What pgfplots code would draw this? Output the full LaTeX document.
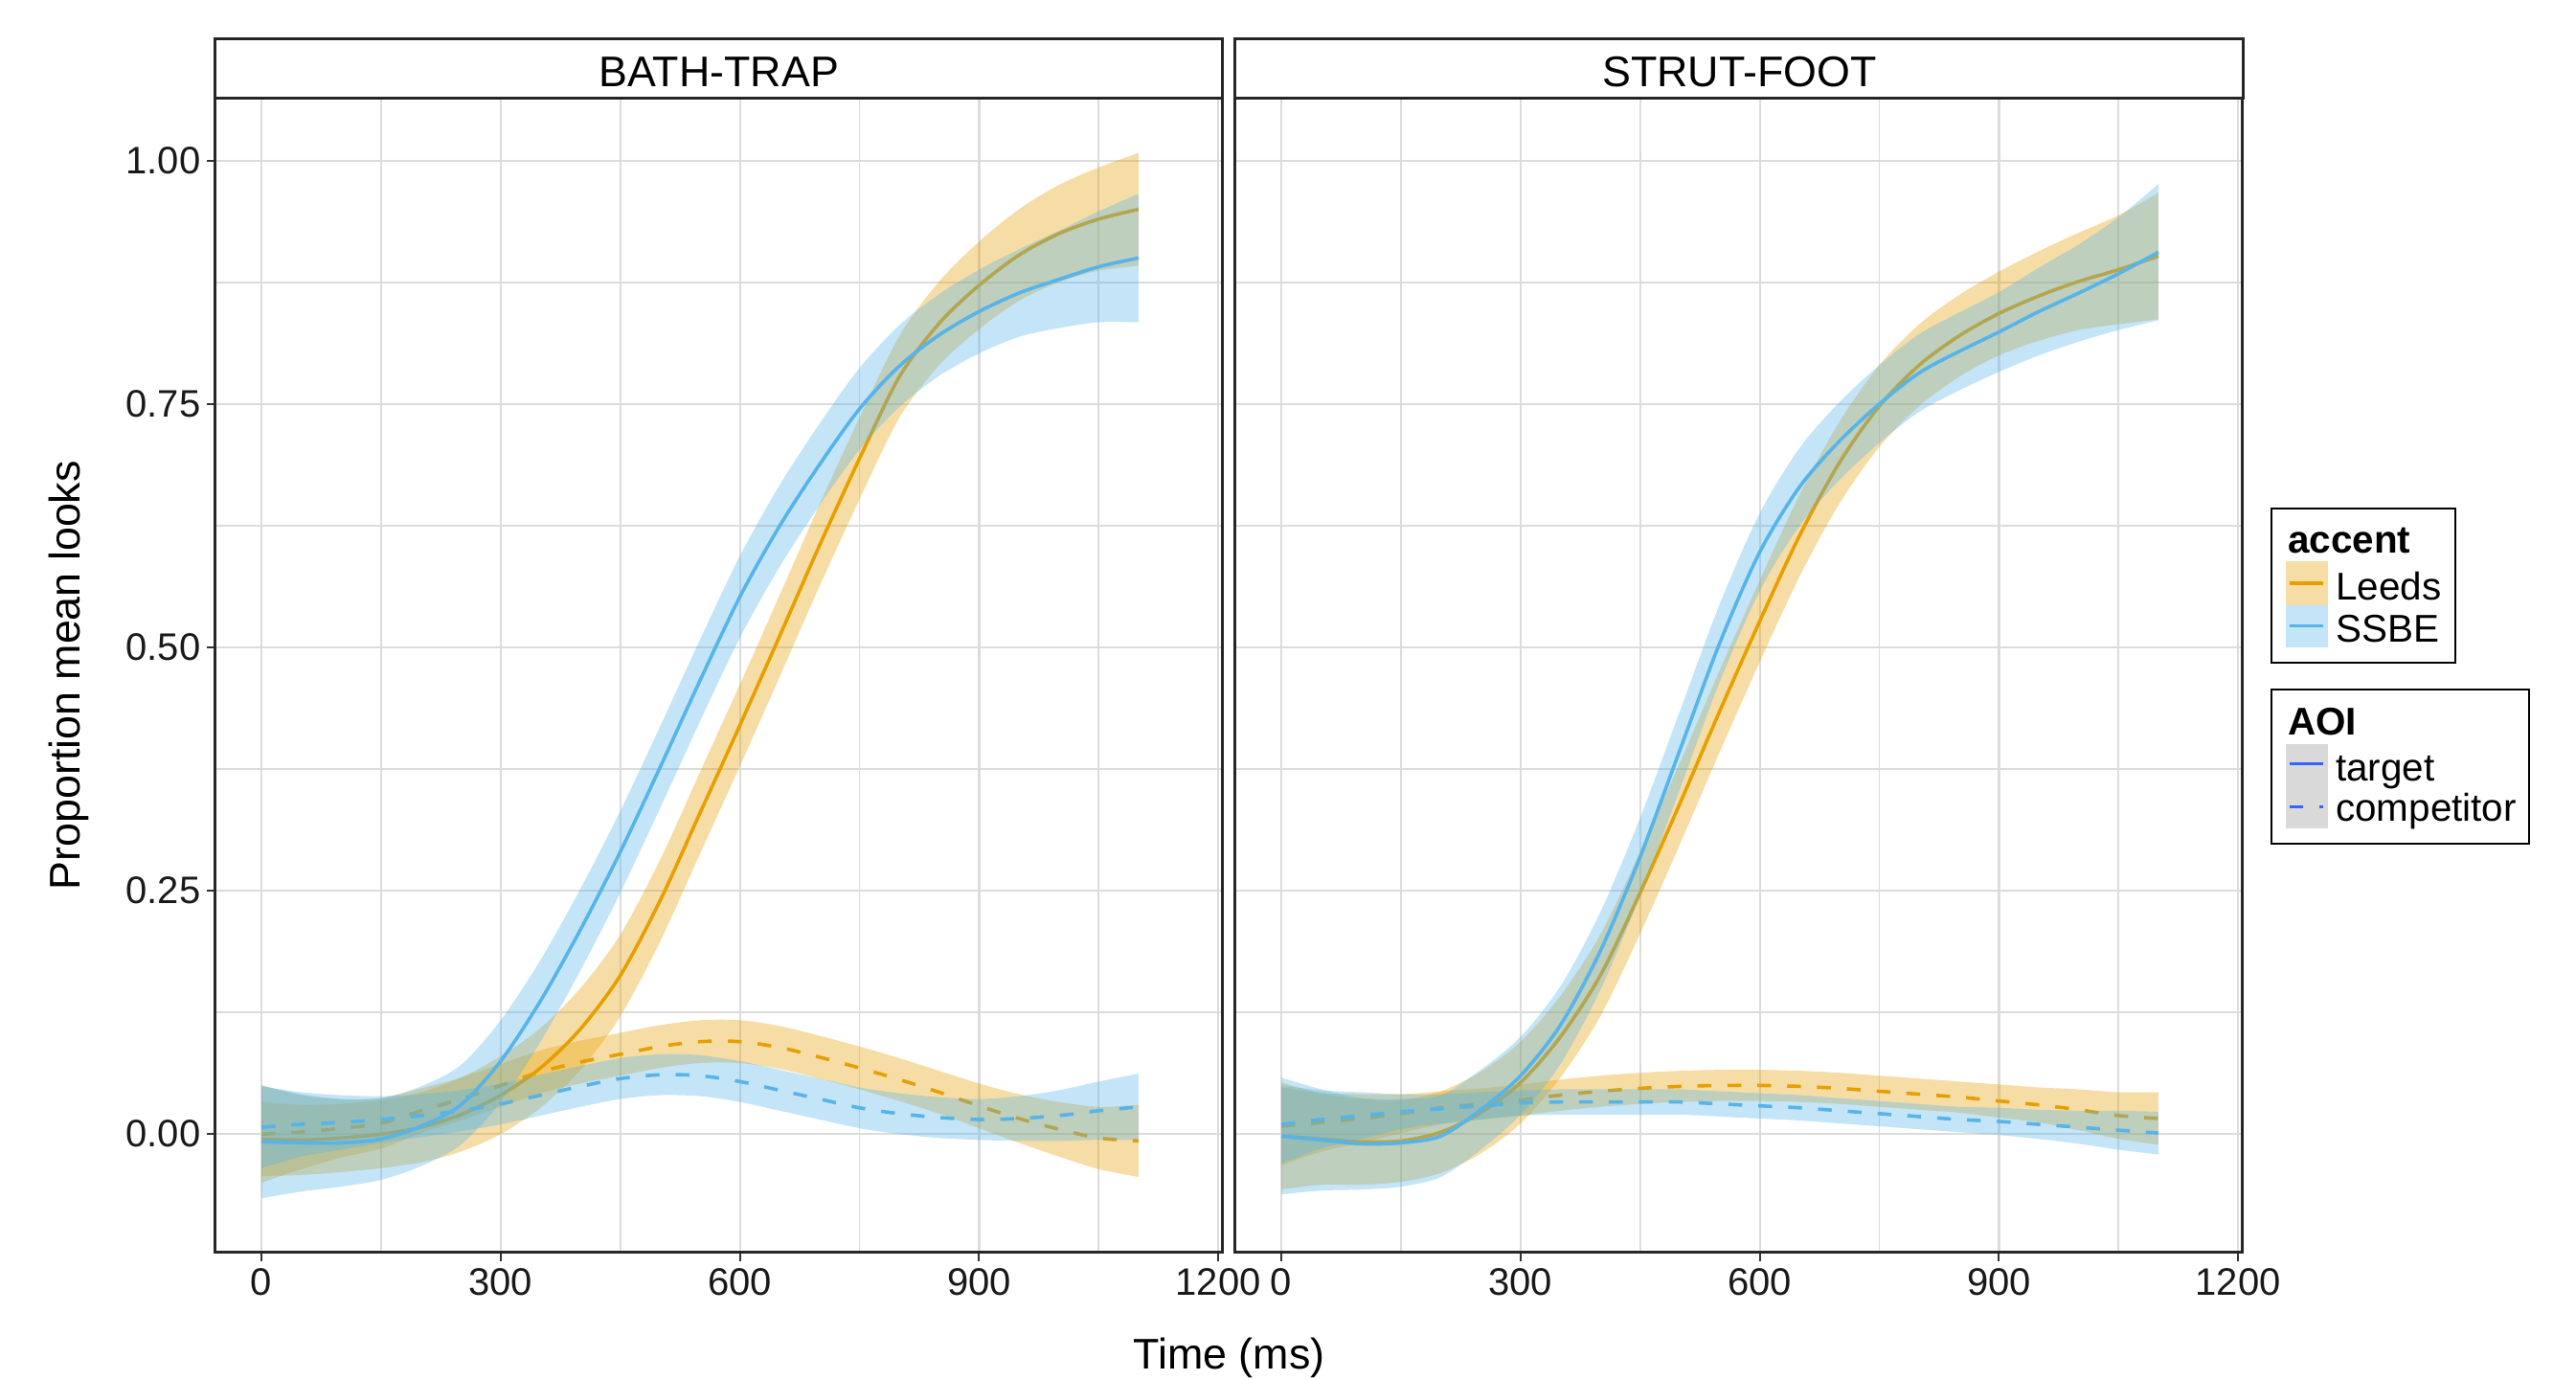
\documentclass[border=0pt]{standalone}
\usepackage{fontspec}
\setmainfont{Liberation Sans}
\usepackage{pgfplots}
\usepackage{pgfplotstable}
\pgfplotsset{compat=1.18}
\usepgfplotslibrary{fillbetween}

\definecolor{leeds}{HTML}{E69F00}
\definecolor{ssbe}{HTML}{56B4E9}
\definecolor{aoi}{HTML}{3366FF}
\definecolor{gridc}{HTML}{DCDCDC}
\definecolor{keyg}{HTML}{D9D9D9}
\definecolor{tickc}{HTML}{333333}

% BATH-TRAP
\pgfplotstableread{
x y lo hi
0 -0.005 -0.043 0.033
50 -0.006 -0.042 0.030
100 -0.004 -0.039 0.031
150 0.000 -0.035 0.035
200 0.007 -0.029 0.043
250 0.020 -0.018 0.058
300 0.040 0.000 0.080
350 0.068 0.027 0.109
400 0.108 0.066 0.150
450 0.163 0.121 0.205
500 0.240 0.198 0.282
550 0.330 0.288 0.372
600 0.420 0.378 0.462
650 0.512 0.470 0.554
700 0.605 0.563 0.647
750 0.694 0.652 0.736
800 0.778 0.736 0.820
850 0.833 0.790 0.876
900 0.872 0.827 0.917
950 0.903 0.856 0.950
1000 0.925 0.875 0.975
1050 0.940 0.887 0.993
1100 0.950 0.892 1.008
}\LTL
\pgfplotstableread{
x y lo hi
0 0.000 -0.050 0.050
50 0.002 -0.036 0.040
100 0.006 -0.024 0.036
150 0.011 -0.015 0.037
200 0.024 0.001 0.047
250 0.036 0.014 0.058
300 0.050 0.028 0.072
350 0.064 0.042 0.086
400 0.074 0.052 0.096
450 0.082 0.060 0.104
500 0.090 0.068 0.112
550 0.095 0.073 0.117
600 0.095 0.073 0.117
650 0.089 0.067 0.111
700 0.079 0.057 0.101
750 0.068 0.046 0.090
800 0.056 0.034 0.078
850 0.043 0.021 0.065
900 0.029 0.006 0.052
950 0.016 -0.009 0.041
1000 0.005 -0.023 0.033
1050 -0.004 -0.036 0.028
1100 -0.007 -0.044 0.030
}\LCL
\pgfplotstableread{
x y lo hi
0 -0.008 -0.066 0.050
50 -0.009 -0.059 0.041
100 -0.009 -0.054 0.036
150 -0.005 -0.047 0.037
200 0.008 -0.033 0.049
250 0.030 -0.011 0.071
300 0.075 0.033 0.117
350 0.137 0.095 0.179
400 0.210 0.168 0.252
450 0.290 0.248 0.332
500 0.377 0.335 0.419
550 0.466 0.424 0.508
600 0.552 0.510 0.594
650 0.625 0.583 0.667
700 0.688 0.646 0.730
750 0.745 0.703 0.787
800 0.789 0.747 0.831
850 0.821 0.779 0.863
900 0.845 0.802 0.888
950 0.864 0.819 0.909
1000 0.878 0.828 0.928
1050 0.891 0.834 0.948
1100 0.900 0.834 0.966
}\STL
\pgfplotstableread{
x y lo hi
0 0.007 -0.035 0.049
50 0.010 -0.023 0.043
100 0.012 -0.016 0.040
150 0.015 -0.009 0.039
200 0.019 -0.003 0.041
250 0.024 0.003 0.045
300 0.031 0.010 0.052
350 0.040 0.019 0.061
400 0.049 0.028 0.070
450 0.057 0.036 0.078
500 0.061 0.040 0.082
550 0.060 0.039 0.081
600 0.054 0.033 0.075
650 0.045 0.024 0.066
700 0.036 0.015 0.057
750 0.027 0.006 0.048
800 0.021 0.000 0.042
850 0.017 -0.004 0.038
900 0.015 -0.006 0.036
950 0.016 -0.007 0.039
1000 0.019 -0.007 0.045
1050 0.024 -0.006 0.054
1100 0.028 -0.006 0.062
}\SCL

% STRUT-FOOT
\pgfplotstableread{
x y lo hi
0 -0.002 -0.057 0.053
50 -0.005 -0.052 0.042
100 -0.008 -0.052 0.036
150 -0.007 -0.049 0.035
200 0.002 -0.040 0.044
250 0.022 -0.020 0.064
300 0.053 0.011 0.095
350 0.100 0.058 0.142
400 0.163 0.121 0.205
450 0.248 0.206 0.290
500 0.340 0.298 0.382
550 0.435 0.393 0.477
600 0.527 0.485 0.569
650 0.615 0.573 0.657
700 0.690 0.648 0.732
750 0.748 0.706 0.790
800 0.790 0.748 0.832
850 0.820 0.778 0.862
900 0.843 0.800 0.886
950 0.861 0.815 0.907
1000 0.876 0.826 0.926
1050 0.888 0.832 0.944
1100 0.902 0.837 0.967
}\LTR
\pgfplotstableread{
x y lo hi
0 0.008 -0.032 0.048
50 0.012 -0.018 0.042
100 0.016 -0.009 0.041
150 0.021 0.001 0.041
200 0.027 0.010 0.044
250 0.031 0.015 0.047
300 0.035 0.019 0.051
350 0.040 0.024 0.056
400 0.044 0.028 0.060
450 0.047 0.031 0.063
500 0.049 0.033 0.065
550 0.050 0.034 0.066
600 0.050 0.034 0.066
650 0.049 0.033 0.065
700 0.047 0.031 0.063
750 0.044 0.028 0.060
800 0.041 0.025 0.057
850 0.038 0.022 0.054
900 0.034 0.017 0.051
950 0.030 0.012 0.048
1000 0.025 0.004 0.046
1050 0.019 -0.005 0.043
1100 0.016 -0.011 0.043
}\LCR
\pgfplotstableread{
x y lo hi
0 -0.002 -0.062 0.058
50 -0.006 -0.058 0.046
100 -0.010 -0.057 0.037
150 -0.009 -0.054 0.036
200 -0.002 -0.044 0.040
250 0.025 -0.016 0.066
300 0.060 0.020 0.100
350 0.112 0.072 0.152
400 0.188 0.148 0.228
450 0.285 0.245 0.325
500 0.395 0.355 0.435
550 0.505 0.465 0.545
600 0.598 0.558 0.638
650 0.665 0.625 0.705
700 0.712 0.672 0.752
750 0.750 0.710 0.790
800 0.782 0.742 0.822
850 0.804 0.764 0.844
900 0.824 0.783 0.865
950 0.845 0.800 0.890
1000 0.864 0.814 0.914
1050 0.884 0.826 0.942
1100 0.906 0.836 0.976
}\STR
\pgfplotstableread{
x y lo hi
0 0.010 -0.030 0.050
50 0.015 -0.015 0.045
100 0.019 -0.005 0.043
150 0.023 0.005 0.041
200 0.026 0.011 0.041
250 0.029 0.015 0.043
300 0.032 0.019 0.045
350 0.033 0.020 0.046
400 0.033 0.020 0.046
450 0.033 0.020 0.046
500 0.033 0.020 0.046
550 0.031 0.018 0.044
600 0.029 0.016 0.042
650 0.027 0.014 0.040
700 0.024 0.011 0.037
750 0.021 0.008 0.034
800 0.018 0.005 0.031
850 0.015 0.002 0.028
900 0.013 -0.001 0.027
950 0.010 -0.005 0.025
1000 0.007 -0.010 0.024
1050 0.004 -0.016 0.024
1100 0.001 -0.021 0.023
}\SCR

\tikzset{fill between/on layer=main}

\pgfplotsset{
  panel/.style={
    scale only axis, width=263pt, height=301.35pt,
    xmin=-58, xmax=1205.5, ymin=-0.1216, ymax=1.0643,
    xtick={0,300,600,900,1200}, minor xtick={150,450,750,1050},
    ytick={0,0.25,0.5,0.75,1}, minor ytick={0.125,0.375,0.625,0.875},
    grid=both,
    major grid style={draw=gridc, line width=0.55pt},
    minor grid style={draw=gridc, line width=0.45pt},
    tick align=outside, major tick length=2.3pt, minor tick length=0pt,
    tick style={draw=tickc, line width=0.5pt},
    xtick pos=bottom, ytick pos=left,
    axis line style={draw=black!85, line width=0.7pt},
    tick label style={font=\fontsize{10}{12}\selectfont, text=black!90},
    /pgf/number format/assume math mode=true,
    xticklabel style={yshift=1.6pt, /pgf/number format/1000 sep={}},
    yticklabel style={xshift=2pt, /pgf/number format/.cd, fixed, fixed zerofill, precision=2},
  },
}

% one smooth: ribbon, then line
\newcommand{\smoothgroup}[4]{%
  \addplot[draw=none, smooth, name path=#3u] table[x=x, y=hi]{#1};
  \addplot[draw=none, smooth, name path=#3l] table[x=x, y=lo]{#1};
  \addplot[fill=#2, fill opacity=0.35, draw=none] fill between[of=#3u and #3l];
  \addplot[#2, line width=0.9pt, smooth, #4] table[x=x, y=y]{#1};
}

\begin{document}
\begin{tikzpicture}
\path (0pt,0pt) rectangle (672.5pt,-360pt);

\begin{axis}[panel, at={(56.2pt,-25.6pt)}, anchor=north west]
  \smoothgroup{\LTL}{leeds}{ltl}{solid}
  \smoothgroup{\LCL}{leeds}{lcl}{dash pattern=on 3.6pt off 4.2pt}
  \smoothgroup{\STL}{ssbe}{stl}{solid}
  \smoothgroup{\SCL}{ssbe}{scl}{dash pattern=on 3.6pt off 4.2pt}
\end{axis}

\begin{axis}[panel, at={(322.45pt,-25.6pt)}, anchor=north west,
  yticklabels={}, ymajorticks=false, ymajorgrids=true, yminorgrids=true]
  \smoothgroup{\LTR}{leeds}{ltr}{solid}
  \smoothgroup{\LCR}{leeds}{lcr}{dash pattern=on 3.6pt off 4.2pt}
  \smoothgroup{\STR}{ssbe}{str}{solid}
  \smoothgroup{\SCR}{ssbe}{scr}{dash pattern=on 3.6pt off 4.2pt}
\end{axis}

% facet strips
\draw[black!85, line width=0.7pt, fill=white] (56.2pt,-10.2pt) rectangle (319.2pt,-25.6pt);
\draw[black!85, line width=0.7pt, fill=white] (322.45pt,-10.2pt) rectangle (585.7pt,-25.6pt);
\node[anchor=base, font=\fontsize{11.2}{13}\selectfont] at (187.7pt,-22.5pt) {BATH-TRAP};
\node[anchor=base, font=\fontsize{11.2}{13}\selectfont] at (454.1pt,-22.5pt) {STRUT-FOOT};

% axis titles
\node[rotate=90, inner sep=0pt, font=\fontsize{11.2}{13}\selectfont] at (18pt,-176.3pt) {Proportion mean looks};
\node[anchor=base, inner sep=0pt, font=\fontsize{11.2}{13}\selectfont] at (320.9pt,-357.4pt) {Time (ms)};

% legend: accent
\draw[black, line width=0.5pt] (593pt,-132.75pt) rectangle (641pt,-173pt);
\node[anchor=base west, inner sep=0pt, font=\fontsize{10.1}{12}\selectfont\bfseries] at (597.1pt,-144.3pt) {accent};
\fill[leeds, fill opacity=0.35] (596.75pt,-146.5pt) rectangle (607.75pt,-157.9pt);
\fill[ssbe, fill opacity=0.35] (596.75pt,-157.9pt) rectangle (607.75pt,-169pt);
\draw[leeds, line width=0.85pt] (597.7pt,-152.25pt) -- (606.4pt,-152.25pt);
\draw[ssbe, line width=0.85pt] (597.7pt,-163.3pt) -- (606.4pt,-163.3pt);
\node[anchor=base west, inner sep=0pt, font=\fontsize{10.1}{12}\selectfont] at (609.6pt,-156.7pt) {Leeds};
\node[anchor=base west, inner sep=0pt, font=\fontsize{10.1}{12}\selectfont] at (609.6pt,-167.5pt) {SSBE};

% legend: AOI
\draw[black, line width=0.5pt] (593pt,-180pt) rectangle (660.25pt,-220.2pt);
\node[anchor=base west, inner sep=0pt, font=\fontsize{10.1}{12}\selectfont\bfseries] at (597.1pt,-191.8pt) {AOI};
\fill[keyg] (596.75pt,-194.2pt) rectangle (607.75pt,-216.25pt);
\draw[aoi, line width=0.85pt] (597.7pt,-199.4pt) -- (606.4pt,-199.4pt);
\draw[aoi, line width=0.85pt, dash pattern=on 3.6pt off 4.2pt] (597.7pt,-210.6pt) -- (606.4pt,-210.6pt);
\node[anchor=base west, inner sep=0pt, font=\fontsize{10.1}{12}\selectfont] at (609.6pt,-203.75pt) {target};
\node[anchor=base west, inner sep=0pt, font=\fontsize{10.1}{12}\selectfont] at (609.6pt,-214.4pt) {competitor};
\end{tikzpicture}
\end{document}
